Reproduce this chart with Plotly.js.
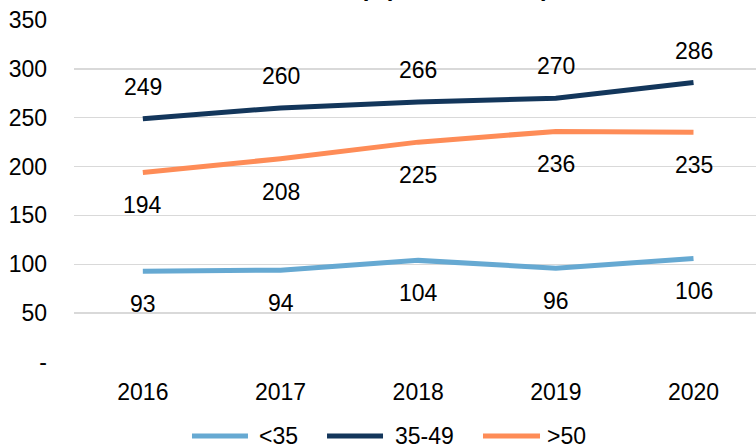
<!DOCTYPE html>
<html>
<head>
<meta charset="utf-8">
<script src="https://cdn.plot.ly/plotly-3.0.1.min.js"></script>
<style>html,body{margin:0;padding:0;background:#fff}#chart{width:756px;height:448px}</style>
</head>
<body>
<div id="chart"></div>
<script>
const years = ['2016', '2017', '2018', '2019', '2020'];
const seriesNames = ['<35', '35-49', '>50'];
const under35 = [93, 94, 104, 96, 106];
const age35to49 = [249, 260, 266, 270, 286];
const over50 = [194, 208, 225, 236, 235];
const yTickVals = [0, 50, 100, 150, 200, 250, 300, 350];
const yTickText = ['-', '50', '100', '150', '200', '250', '300', '350'];
const titleText = 'Membership (in thousands)';

const colors = ['#66a9d2', '#13365b', '#fe8c57'];
const seriesData = [under35, age35to49, over50];
const labelShift = [-33, 32, -33];
const FONT = 'Liberation Sans, Arial, sans-serif';

const traces = seriesData.map((vals, i) => ({
  type: 'scatter', mode: 'lines', x: years, y: vals, name: seriesNames[i],
  line: {color: colors[i], width: 5}, showlegend: false, hoverinfo: 'skip'
}));

const annotations = [];
seriesData.forEach((vals, i) => {
  vals.forEach((v, j) => {
    annotations.push({x: j, y: v, xref: 'x', yref: 'y', text: String(v),
      showarrow: false, yshift: labelShift[i], xanchor: 'center', yanchor: 'middle',
      font: {family: FONT, size: 23, color: '#000'}});
  });
});

// chart title (cut off at the top edge, as in the reference)
annotations.push({xref: 'paper', yref: 'paper', x: 0.4677, y: 1, yshift: 17, xanchor: 'center', yanchor: 'bottom',
  text: '<b>' + titleText + '</b>', showarrow: false, font: {family: FONT, size: 24, color: '#000'}});

// custom legend
const legendY = -0.2164;
const legendLines = [[0.1730, 0.2551, 0.2683], [0.3710, 0.4531, 0.4677], [0.5997, 0.6833, 0.6906]];
const shapes = [];
legendLines.forEach((p, i) => {
  shapes.push({type: 'line', xref: 'paper', yref: 'paper', x0: p[0], x1: p[1], y0: legendY, y1: legendY,
    line: {color: colors[i], width: 5}});
  annotations.push({xref: 'paper', yref: 'paper', x: p[2], y: legendY, text: seriesNames[i].replace('<', '&lt;').replace('>', '&gt;'),
    showarrow: false, xanchor: 'left', yanchor: 'middle', font: {family: FONT, size: 23, color: '#000'}});
});

const layout = {
  width: 756, height: 448,
  margin: {l: 74, r: 0, t: 20, b: 86, pad: 0},
  paper_bgcolor: '#fff', plot_bgcolor: '#fff',
  xaxis: {type: 'category', range: [-0.5, 4.454], showgrid: false, zeroline: false, showline: false,
    ticks: '', tickfont: {family: FONT, size: 23, color: '#000'}, ticklabelstandoff: 14, fixedrange: true},
  yaxis: {range: [0, 350], tickvals: yTickVals, ticktext: yTickText, showgrid: true, gridcolor: '#d9d9d9', gridwidth: 1.5,
    zeroline: false, showline: false, ticks: '', tickfont: {family: FONT, size: 23, color: '#000'}, ticklabelstandoff: 26, fixedrange: true},
  annotations: annotations,
  shapes: shapes,
  showlegend: false
};

Plotly.newPlot('chart', traces, layout, {displayModeBar: false, staticPlot: true});
</script>
</body>
</html>
